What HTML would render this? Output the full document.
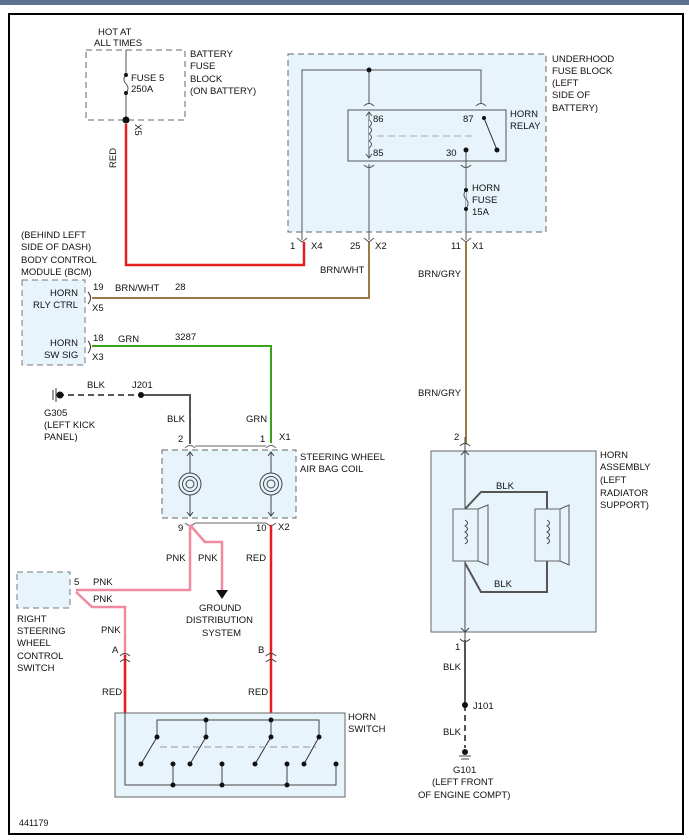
<!DOCTYPE html>
<html><head><meta charset="utf-8"><style>
body{margin:0;background:#fff}
svg{display:block}
text{font-family:"Liberation Sans",Arial,sans-serif;font-size:9.5px;fill:#111}
</style></head><body>
<svg width="689" height="840" viewBox="0 0 689 840" xmlns="http://www.w3.org/2000/svg">
<rect x="0" y="0" width="689" height="5" fill="#5d7290"/>
<rect x="9" y="14" width="674" height="820" fill="#fff" stroke="#000" stroke-width="2"/>
<g fill="none" stroke-linecap="butt">
<rect x="86" y="50" width="99" height="70" stroke="#666" stroke-dasharray="6,4"/>
<path d="M126 50V75 M126 93V118" stroke="#555"/>
<path d="M126 75q-4 4 0 9q4 4 0 9" stroke="#555"/>
<rect x="288" y="54" width="258" height="178" fill="#e8f4fc" stroke="#666" stroke-dasharray="6,4"/>
<rect x="348" y="110" width="158" height="51" fill="#e8f4fc" stroke="#555"/>
<path d="M302 240V70H481V104 M369 70V104 M369 113V158 M369 164V240 M466 150V240" stroke="#555"/>
<path d="M377 136H475" stroke="#aaa" stroke-dasharray="7,4"/>
<path d="M484 118L497 150" stroke="#333"/>
<path d="M369 120q5 3 0 7q5 3 0 7q5 3 0 7q5 3 0 7" stroke="#555" fill="#e8f4fc"/>
<path d="M466 190q-4 5 0 9q4 4 0 10" stroke="#555" fill="#e8f4fc"/>
<path d="M364 106q5-5 10 0 M476 106q5-5 10 0 M364 165q5 5 10 0 M461 165q5 5 10 0 M297 238l5 4 5-4 M364 238l5 4 5-4 M461 238l5 4 5-4 M366 116l3-4 3 4 M366 154l3 4 3-4" stroke="#555"/>
<path d="M126 124V265H304V242" stroke="#e61e1e" stroke-width="2.5"/>
<path d="M369 242V298H92" stroke="#9b7b43" stroke-width="2"/>
<path d="M466 242V444" stroke="#9b7b43" stroke-width="2"/>
<path d="M92 346H271V443" stroke="#3aa31a" stroke-width="2"/>
<rect x="22" y="280" width="63" height="85" fill="#e8f4fc" stroke="#777" stroke-dasharray="6,4"/>
<path d="M88 292q5 6 0 12 M88 341q5 6 0 12" stroke="#333"/>
<path d="M58 395H141" stroke="#555" stroke-width="2" stroke-dasharray="6,4"/>
<path d="M141 395H190V444" stroke="#555" stroke-width="2"/>
<path d="M53 390V400 M56 388V402" stroke="#333"/>
<rect x="162" y="450" width="134" height="68" fill="#e8f4fc" stroke="#666" stroke-dasharray="6,4"/>
<path d="M185 448q5-5 10 0 M266 448q5-5 10 0 M185 523q5 5 10 0 M266 523q5 5 10 0 M195 446H266 M195 523H266" stroke="#666"/>
<path d="M190 452V516 M271 452V516 M187 456l3-4 3 4 M268 456l3-4 3 4 M187 512l3 4 3-4 M268 512l3 4 3-4" stroke="#444"/>
<g stroke="#444"><circle cx="190" cy="484" r="11" fill="#e8f4fc"/><circle cx="190" cy="484" r="7.5"/><circle cx="190" cy="484" r="4"/><circle cx="271" cy="484" r="11" fill="#e8f4fc"/><circle cx="271" cy="484" r="7.5"/><circle cx="271" cy="484" r="4"/></g>
<path d="M271 525V720" stroke="#e61e1e" stroke-width="2.5"/>
<path d="M190 525L205 542H222V592 M190 525V590H76 M76 592L92 607H125V713" stroke="#f08aa0" stroke-width="2.5"/>
<path d="M125 655V713" stroke="#e61e1e" stroke-width="2.5"/>
<rect x="17" y="572" width="53" height="36" fill="#e8f4fc" stroke="#777" stroke-dasharray="6,4"/>
<path d="M120 656q5-5 10 0 M120 662q5-5 10 0 M266 656q5-5 10 0 M266 662q5-5 10 0" stroke="#444"/>
<!-- horn switch -->
<rect x="115" y="713" width="230" height="84" fill="#e8f4fc" stroke="#666"/>
<path d="M125 713V785H336V764 M157 737V720H319V737 M206 720V737 M271 720V737" stroke="#444"/>
<path d="M157 737L141 764 M206 737L190 764 M271 737L255 764 M319 737L304 764" stroke="#333"/>
<path d="M160 747H316" stroke="#999" stroke-dasharray="7,4"/>
<path d="M173 764V785 M222 764V785 M287 764V785" stroke="#444"/>
<!-- horn assembly -->
<rect x="431" y="451" width="165" height="181" fill="#e8f4fc" stroke="#666"/>
<path d="M465 437V640 M461 455l4-4 4 4 M461 628l4 4 4-4 M460 446q5-5 10 0 M460 639q5 5 10 0" stroke="#444"/>
<path d="M465 509L481 492H547V592H481L465 563" stroke="#555" stroke-width="2"/>
<rect x="453" y="509" width="25" height="52" fill="#e8f4fc" stroke="#666"/>
<path d="M478 509L488 505V565L478 561" stroke="#555"/>
<rect x="535" y="509" width="25" height="52" fill="#e8f4fc" stroke="#666"/>
<path d="M560 509L569 505V565L560 561" stroke="#555"/>
<path d="M465 520q5 3 0 6q5 3 0 6q5 3 0 6q5 3 0 6 M547 520q5 3 0 6q5 3 0 6q5 3 0 6q5 3 0 6" stroke="#444"/>
<path d="M465 640V705" stroke="#555" stroke-width="2"/>
<path d="M465 705V748" stroke="#555" stroke-width="2" stroke-dasharray="6,4"/>
<path d="M459 756H471 M461 759H469" stroke="#444"/>
</g>
<g fill="#111">
<circle cx="126" cy="120" r="3.5"/><circle cx="126" cy="75" r="2"/><circle cx="126" cy="93" r="2"/>
<circle cx="369" cy="70" r="2.5"/><circle cx="484" cy="118" r="2"/><circle cx="497" cy="150" r="2.5"/><circle cx="466" cy="150" r="2.5"/>
<circle cx="466" cy="190" r="2"/><circle cx="466" cy="209" r="2"/>
<circle cx="141" cy="395" r="3"/><circle cx="60" cy="395" r="3.5"/>
<polygon points="216,590 228,590 222,599"/>
<circle cx="206" cy="720" r="2.5"/><circle cx="271" cy="720" r="2.5"/>
<circle cx="157" cy="737" r="2.5"/><circle cx="206" cy="737" r="2.5"/><circle cx="271" cy="737" r="2.5"/><circle cx="319" cy="737" r="2.5"/>
<circle cx="141" cy="764" r="2.5"/><circle cx="173" cy="764" r="2.5"/><circle cx="190" cy="764" r="2.5"/><circle cx="222" cy="764" r="2.5"/><circle cx="255" cy="764" r="2.5"/><circle cx="287" cy="764" r="2.5"/><circle cx="304" cy="764" r="2.5"/><circle cx="336" cy="764" r="2.5"/>
<circle cx="173" cy="785" r="2.5"/><circle cx="222" cy="785" r="2.5"/><circle cx="287" cy="785" r="2.5"/>
<circle cx="465" cy="705" r="3"/><circle cx="465" cy="752" r="3"/>
</g>
<text x="98" y="35">HOT AT</text><text x="94" y="46">ALL TIMES</text>
<text x="131" y="81">FUSE 5</text><text x="131" y="92">250A</text>
<text x="190" y="57">BATTERY</text><text x="190" y="69">FUSE</text><text x="190" y="82">BLOCK</text><text x="190" y="94">(ON BATTERY)</text>
<text transform="translate(135,124) rotate(90)">X5</text>
<text transform="translate(116,168) rotate(-90)">RED</text>
<text x="552" y="62">UNDERHOOD</text><text x="552" y="74">FUSE BLOCK</text><text x="552" y="86">(LEFT</text><text x="552" y="98">SIDE OF</text><text x="552" y="111">BATTERY)</text>
<text x="510" y="117">HORN</text><text x="510" y="129">RELAY</text>
<text x="373" y="122">86</text><text x="373" y="156">85</text><text x="463" y="122">87</text><text x="446" y="156">30</text>
<text x="472" y="191">HORN</text><text x="472" y="203">FUSE</text><text x="472" y="215">15A</text>
<text x="290" y="249">1</text><text x="311" y="249">X4</text><text x="350" y="249">25</text><text x="375" y="249">X2</text><text x="451" y="249">11</text><text x="472" y="249">X1</text>
<text x="21" y="238">(BEHIND LEFT</text><text x="21" y="250">SIDE OF DASH)</text><text x="21" y="263">BODY CONTROL</text><text x="21" y="275">MODULE (BCM)</text>
<text x="320" y="273">BRN/WHT</text><text x="418" y="277">BRN/GRY</text><text x="418" y="396">BRN/GRY</text>
<text x="50" y="296">HORN</text><text x="33" y="308">RLY CTRL</text><text x="50" y="346">HORN</text><text x="44" y="358">SW SIG</text>
<text x="93" y="290">19</text><text x="115" y="291">BRN/WHT</text><text x="175" y="290">28</text><text x="92" y="311">X5</text>
<text x="93" y="341">18</text><text x="118" y="342">GRN</text><text x="175" y="340">3287</text><text x="92" y="360">X3</text>
<text x="87" y="388">BLK</text><text x="132" y="388">J201</text>
<text x="44" y="416">G305</text><text x="44" y="428">(LEFT KICK</text><text x="44" y="440">PANEL)</text>
<text x="167" y="422">BLK</text><text x="246" y="422">GRN</text>
<text x="178" y="442">2</text><text x="260" y="442">1</text><text x="279" y="440">X1</text>
<text x="300" y="460">STEERING WHEEL</text><text x="300" y="472">AIR BAG COIL</text>
<text x="178" y="531">9</text><text x="256" y="531">10</text><text x="278" y="530">X2</text>
<text x="166" y="561">PNK</text><text x="198" y="561">PNK</text><text x="246" y="561">RED</text>
<text x="74" y="585">5</text><text x="93" y="585">PNK</text><text x="93" y="602">PNK</text><text x="101" y="633">PNK</text>
<text x="199" y="611">GROUND</text><text x="186" y="623">DISTRIBUTION</text><text x="202" y="636">SYSTEM</text>
<text x="17" y="622">RIGHT</text><text x="17" y="634">STEERING</text><text x="17" y="646">WHEEL</text><text x="17" y="659">CONTROL</text><text x="17" y="671">SWITCH</text>
<text x="112" y="653">A</text><text x="258" y="653">B</text><text x="102" y="695">RED</text><text x="248" y="695">RED</text>
<text x="348" y="720">HORN</text><text x="348" y="732">SWITCH</text>
<text x="600" y="458">HORN</text><text x="600" y="470">ASSEMBLY</text><text x="600" y="483">(LEFT</text><text x="600" y="496">RADIATOR</text><text x="600" y="508">SUPPORT)</text>
<text x="496" y="489">BLK</text><text x="494" y="587">BLK</text>
<text x="454" y="440">2</text><text x="455" y="650">1</text>
<text x="443" y="670">BLK</text><text x="473" y="709">J101</text><text x="443" y="735">BLK</text>
<text x="453" y="773">G101</text><text x="432" y="785">(LEFT FRONT</text><text x="418" y="798">OF ENGINE COMPT)</text>
<text x="19" y="826" style="font-size:9px">441179</text>
</svg>
</body></html>
